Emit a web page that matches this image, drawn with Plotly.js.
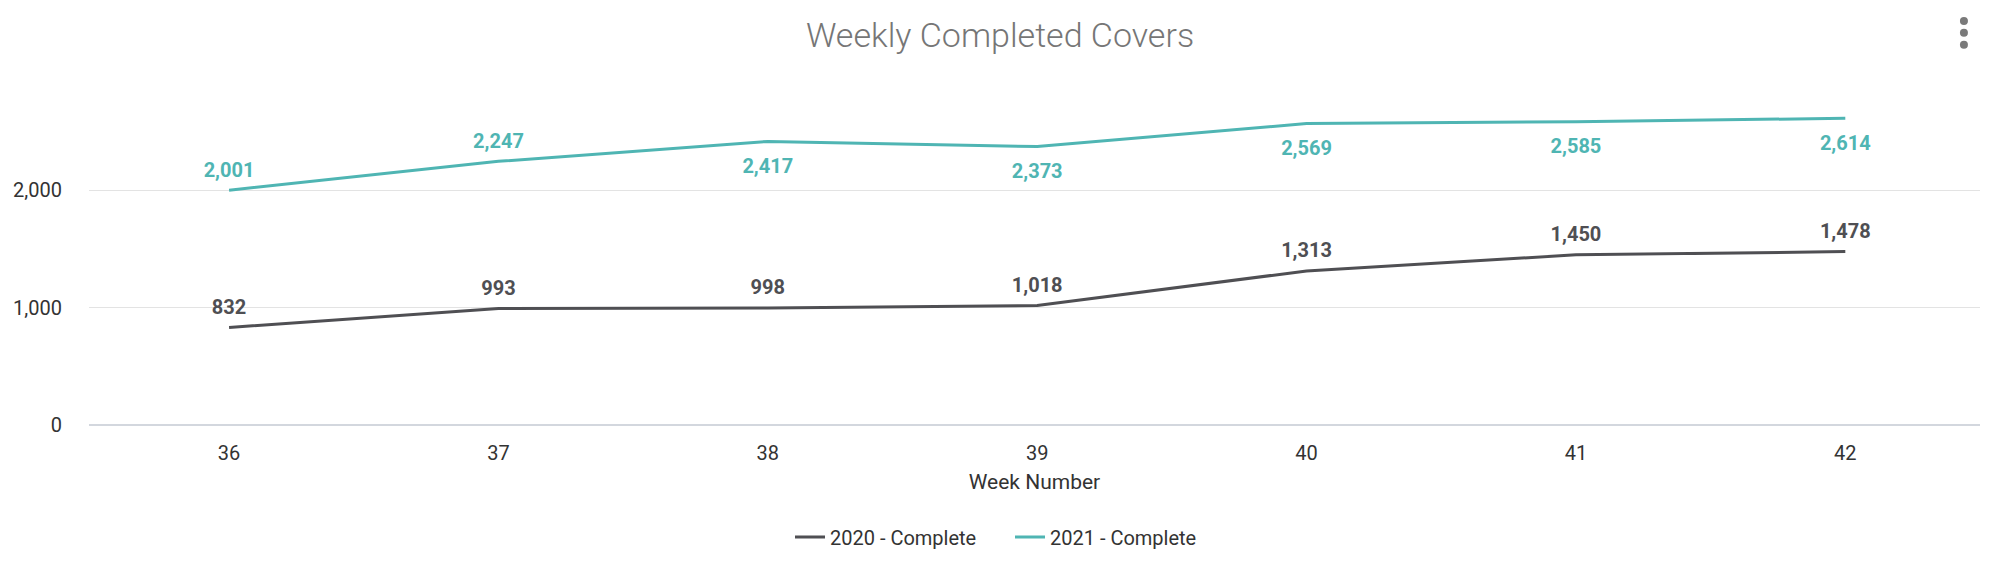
<!DOCTYPE html>
<html>
<head>
<meta charset="utf-8">
<script src="https://cdn.plot.ly/plotly-3.0.1.min.js"></script>
<style>
  html, body { margin: 0; padding: 0; background: #ffffff; }
  #chart { width: 2000px; height: 580px; }
</style>
</head>
<body>
<div id="chart"></div>
<script>
const weeks = ['36', '37', '38', '39', '40', '41', '42']
const covers2020 = [832, 993, 998, 1018, 1313, 1450, 1478]
const covers2021 = [2001, 2247, 2417, 2373, 2569, 2585, 2614]
const labelPos2021 = ['top center', 'top center', 'bottom center', 'bottom center',
  'bottom center', 'bottom center', 'bottom center']

const grey = '#4f4f53'
const teal = '#4fb5b3'
const clear = 'rgba(0,0,0,0)'

// invisible markers only push the value labels away from the line
const gapFor = (pos) => pos.startsWith('top') ? 12 : 25

const data = [
  {
    type: 'scatter',
    mode: 'lines+markers+text',
    name: '2020 - Complete',
    x: weeks,
    y: covers2020,
    line: { color: grey, width: 3 },
    marker: { size: 12, color: clear, line: { width: 0 } },
    texttemplate: '%{y:,}',
    textposition: 'top center',
    textfont: { family: 'Roboto', size: 20, color: grey, weight: 700 },
    hoverinfo: 'y',
  },
  {
    type: 'scatter',
    mode: 'lines+markers+text',
    name: '2021 - Complete',
    x: weeks,
    y: covers2021,
    line: { color: teal, width: 3 },
    marker: { size: labelPos2021.map(gapFor), color: clear, line: { width: 0 } },
    texttemplate: '%{y:,}',
    textposition: labelPos2021,
    textfont: { family: 'Roboto', size: 20, color: teal, weight: 700 },
    hoverinfo: 'y',
  },
]

// the little "more" menu in the top right corner
const dot = (yc) => ({
  type: 'circle',
  xref: 'paper', yref: 'paper',
  xsizemode: 'pixel', ysizemode: 'pixel',
  xanchor: 0.9915, yanchor: yc,
  x0: -4, x1: 4, y0: -4, y1: 4,
  fillcolor: '#7a7a7a',
  line: { width: 0 },
})

const layout = {
  width: 2000,
  height: 580,
  paper_bgcolor: '#ffffff',
  plot_bgcolor: '#ffffff',
  font: { family: 'Roboto, sans-serif', color: '#333333', size: 20 },
  margin: { t: 73, r: 20, b: 155, l: 89 },
  title: {
    text: 'Weekly Completed Covers',
    font: { family: 'Roboto', size: 34, color: '#767676', weight: 300 },
    x: 0.5,
    xanchor: 'center',
    y: 0.94,
    yanchor: 'middle',
  },
  xaxis: {
    type: 'category',
    range: [-0.52, 6.5],
    showgrid: false,
    zeroline: false,
    showline: false,
    ticks: '',
    ticklabelstandoff: 14,
    tickfont: { size: 20, color: '#333333' },
    title: { text: 'Week Number', font: { size: 21, color: '#333333' }, standoff: 10 },
    fixedrange: true,
  },
  yaxis: {
    range: [0, 3000],
    tickvals: [0, 1000, 2000],
    tickformat: ',',
    gridcolor: '#e3e3e3',
    gridwidth: 1.5,
    zeroline: true,
    zerolinecolor: '#d3d7de',
    zerolinewidth: 2,
    showline: false,
    ticks: '',
    ticklabelstandoff: 26,
    tickfont: { size: 20, color: '#333333' },
    fixedrange: true,
  },
  showlegend: true,
  legend: {
    orientation: 'h',
    xref: 'container',
    yref: 'container',
    x: 0.505,
    xanchor: 'center',
    y: 0.074,
    yanchor: 'middle',
    entrywidth: 175,
    font: { size: 20, color: '#333333' },
  },
  shapes: [dot(1.148), dot(1.114), dot(1.08)],
}

const config = {
  responsive: false,
  displayModeBar: false,
  staticPlot: true,
}

Plotly.newPlot('chart', data, layout, config)
</script>
</body>
</html>
